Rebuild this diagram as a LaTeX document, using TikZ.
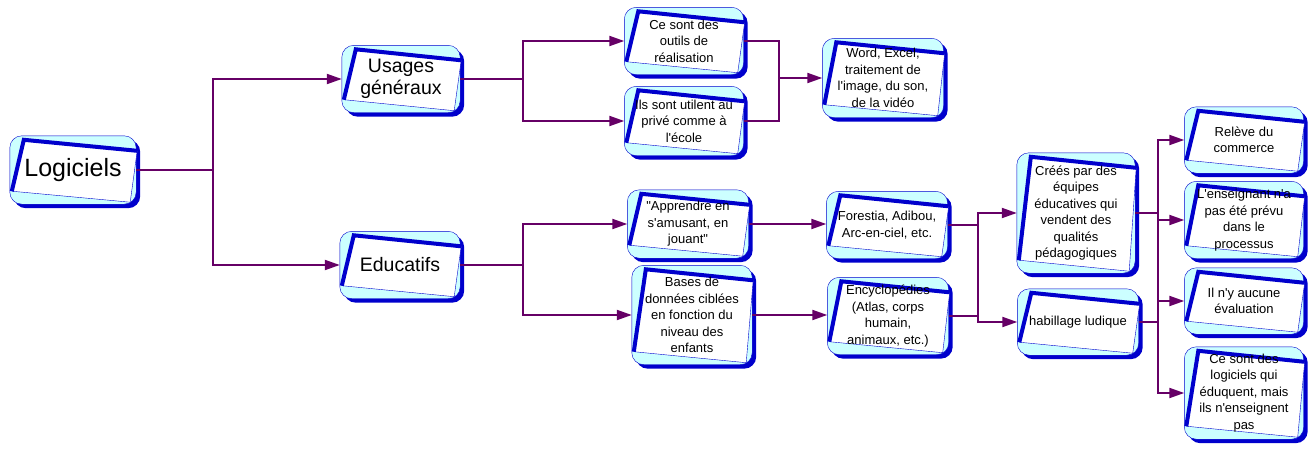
\documentclass[tikz,border=0pt]{standalone}
\usepackage{fontspec}
\setmainfont{Liberation Sans}[Ligatures=TeXOff]
\usepackage{tikz}
\usetikzlibrary{calc, arrows.meta, backgrounds}
\definecolor{cardblue}{HTML}{0000CC}
\definecolor{cardcyan}{HTML}{CCFFFF}
\definecolor{linkpurple}{HTML}{660066}
\tikzset{
  card/.style 2 args={minimum width=#1, minimum height=#2, inner sep=0pt, align=center,
    font=\fontsize{13}{16.5}\selectfont},
  bigtext/.style={font=\fontsize{19.5}{22}\selectfont},
  link/.style={line width=2pt, linkpurple},
  arr/.style={link, -{Triangle[length=15pt,width=10pt]}}
}

\begin{document}
\begin{tikzpicture}[x=1pt, y=-1pt]
        \useasboundingbox (0,0) rectangle (1312,450);

        \node[card={126}{68}, font=\fontsize{25}{28}\selectfont] (log) at (73,170) {Logiciels};
        \node[card={118}{67}, bigtext] (usa) at (401,79) {Usages\\généraux};
        \node[card={120}{67}, bigtext] (edu) at (400,265) {Educatifs};

        \node[card={119}{67}] (outil) at (684,41) {Ce sont des\\outils de\\réalisation};
        \node[card={119}{69}] (prive) at (684,121) {Ils sont utilent au\\privé comme à\\l'école};
        \node[card={121}{79}] (word) at (883,78) {Word, Excel,\\traitement de\\l'image, du son,\\de la vidéo};

        \node[card={121}{68}] (appr) at (688,224) {"Apprendre en\\s'amusant, en\\jouant"};
        \node[card={120}{99}] (bases) at (692,315) {Bases de\\données ciblées\\en fonction du\\niveau des\\enfants};
        \node[card={121}{67}] (fores) at (887,225) {Forestia, Adibou,\\Arc-en-ciel, etc.};
        \node[card={121}{77}] (ency) at (888,316) {Encyclopédies\\(Atlas, corps\\humain,\\animaux, etc.)};

        \node[card={118}{120}] (crees) at (1076,213) {Créés par des\\équipes\\éducatives qui\\vendent des\\qualités\\pédagogiques};
        \node[card={121}{66}] (habil) at (1078,322) {habillage ludique};

        \node[card={119}{66}] (releve) at (1244,140) {Relève du\\commerce};
        \node[card={119}{77}] (ensei) at (1244,220) {L'enseignant n'a\\pas été prévu\\dans le\\processus};
        \node[card={119}{66}] (aucune) at (1244,301) {Il n'y aucune\\évaluation};
        \node[card={119}{92}] (eduq) at (1244,393) {Ce sont des\\logiciels qui\\éduquent, mais\\ils n'enseignent\\pas};

        % cards: shadow, cyan box, tilted white sheet
        \begin{scope}[on background layer]
        \foreach \n in {log,usa,edu,outil,prive,word,appr,bases,fores,ency,crees,habil,releve,ensei,aucune,eduq}{
            \fill[cardblue, rounded corners=12] ([shift={(4,4)}]\n.north west) rectangle ([shift={(4,4)}]\n.south east);
            \filldraw[fill=cardcyan, draw=cardblue, thin, rounded corners=12] (\n.north west) rectangle (\n.south east);
            \filldraw[fill=white, draw=cardblue, thin] ([shift={(14,4)}]\n.north west) -- ([shift={(1,15)}]\n.north east)
                -- ([shift={(-6,-2)}]\n.south east) -- ([shift={(2,-13)}]\n.south west) -- cycle;
            \draw[cardblue, line width=4pt] ([shift={(2,-13)}]\n.south west) -- ([shift={(14,4)}]\n.north west)
                -- ([shift={(1,15)}]\n.north east);
        }
        \end{scope}

        \coordinate (j1) at (213,170);
        \coordinate (j2) at (523,79);
        \coordinate (j3) at (779,78);
        \coordinate (j4) at (523,265);
        \coordinate (j5) at (978,270);
        \coordinate (j6) at (1158,270);

        \draw[link] (log) -- (j1);
        \draw[arr] (j1) |- (usa);
        \draw[arr] (j1) |- (edu);

        \draw[link] (usa) -- (j2);
        \draw[arr] (j2) |- (outil);
        \draw[arr] (j2) |- (prive);
        \draw[link] (outil.east) -| (j3);
        \draw[link] (prive.east) -| (j3);
        \draw[arr] (j3) -- (word);

        \draw[link] (edu) -- (j4);
        \draw[arr] (j4) |- (appr);
        \draw[arr] (j4) |- (bases);
        \draw[arr] (appr.east) -- (appr.east -| fores.west);
        \draw[arr] (bases.east) -- (bases.east -| ency.west);

        \draw[link] (fores.east) -| (j5);
        \draw[link] (ency.east) -| (j5);
        \draw[arr] (j5) |- (crees);
        \draw[arr] (j5) |- (habil);

        \draw[link] (crees.east) -| (j6);
        \draw[link] (habil.east) -| (j6);
        \draw[arr] (j6) |- (releve);
        \draw[arr] (j6) |- (ensei);
        \draw[arr] (j6) |- (aucune);
        \draw[arr] (j6) |- (eduq);
\end{tikzpicture}
\end{document}
